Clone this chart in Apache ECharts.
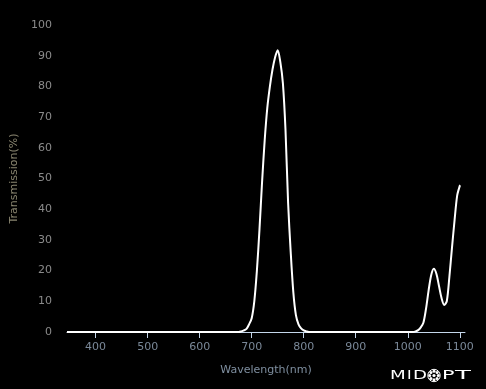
<!DOCTYPE html>
<html><head><meta charset="utf-8">
<style>html,body{margin:0;padding:0;background:#000;}#c{width:486px;height:389px;}</style>
<script src="https://cdn.jsdelivr.net/npm/echarts@6/dist/echarts.min.js"></script>
</head><body><div id="c"></div>
<script>
const wavelengths = [345, 500, 650, 675, 680, 685, 690, 695, 700, 705, 710, 715, 720, 725, 730, 735, 740, 745, 750, 755, 760, 765, 770, 775, 780, 785, 790, 795, 800, 805, 810, 815, 900, 1000, 1005, 1010, 1015, 1020, 1025, 1030, 1035, 1040, 1045, 1050, 1055, 1060, 1065, 1070, 1075, 1080, 1085, 1090, 1095, 1100, 1101];
const transmission = [0, 0, 0, 0, 0.2, 0.5, 1.0, 2.5, 4.5, 10, 20, 33.5, 49, 62.5, 73, 80, 85.5, 89.5, 91.8, 88, 81, 65.7, 42, 26, 13, 5.5, 2.5, 1.2, 0.5, 0.2, 0, 0, 0, 0, 0, 0, 0.2, 0.6, 1.5, 3, 7.5, 13.5, 18.5, 20.6, 19, 15, 11, 8.8, 10, 18, 27.5, 36.5, 44.5, 47.6, 47.8];
const xTicks = [400, 500, 600, 700, 800, 900, 1000, 1100];
const yTicks = [0, 10, 20, 30, 40, 50, 60, 70, 80, 90, 100];

const chart = echarts.init(document.getElementById('c'));
const logoFont = '13px "DejaVu Sans"';
function letter(ch, x, sx) {
  return {type: 'text', x: x, y: 376, scaleX: sx, style: {text: ch, fill: '#fff', font: logoFont, textAlign: 'left', textVerticalAlign: 'middle'}};
}
const dots = [];
for (let k = 0; k < 8; k++) {
  const a = k * Math.PI / 4;
  dots.push({type: 'circle', shape: {cx: 434 + 4.3 * Math.cos(a), cy: 375.5 + 4.3 * Math.sin(a), r: 1.5}, style: {fill: '#fff'}});
}
dots.push({type: 'circle', shape: {cx: 434, cy: 375.5, r: 1.6}, style: {fill: '#fff'}});
dots.push({type: 'circle', shape: {cx: 434, cy: 375.5, r: 6.2}, style: {fill: 'none', stroke: '#fff', lineWidth: 1}});

chart.setOption({
  backgroundColor: '#000',
  animation: false,
  grid: {left: 67, right: 21, top: 25, bottom: 57, containLabel: false},
  xAxis: {
    type: 'value', min: 345, max: 1110,
    name: 'Wavelength(nm)', nameLocation: 'middle', nameGap: 33,
    nameTextStyle: {color: '#7f8fa0', fontSize: 11, fontFamily: 'DejaVu Sans'},
    axisLine: {show: true, lineStyle: {color: '#c4d6ea', width: 1}},
    axisTick: {show: true, length: 6, customValues: xTicks, lineStyle: {color: '#c4d6ea'}},
    axisLabel: {customValues: xTicks, formatter: v => String(v), color: '#7a8898', fontSize: 11, fontFamily: 'DejaVu Sans', margin: 10},
    splitLine: {show: false}
  },
  yAxis: {
    type: 'value', min: 0, max: 100, interval: 10,
    name: 'Transmission(%)', nameLocation: 'middle', nameGap: 41,
    nameTextStyle: {color: '#8a8670', fontSize: 11, fontFamily: 'DejaVu Sans'},
    axisLine: {show: false},
    axisTick: {show: false},
    axisLabel: {color: '#8a8a8a', fontSize: 11, fontFamily: 'DejaVu Sans', margin: 15},
    splitLine: {show: false}
  },
  series: [{
    type: 'line', smooth: 0.3, showSymbol: false,
    lineStyle: {color: '#ffffff', width: 2},
    data: wavelengths.map((w, i) => [w, transmission[i]])
  }],
  graphic: [
    letter('M', 390, 1.4),
    letter('I', 407, 1.2),
    letter('D', 413, 1.4),
    ...dots,
    letter('P', 442, 1.6),
    letter('T', 455, 2.0)
  ]
});
</script></body></html>
